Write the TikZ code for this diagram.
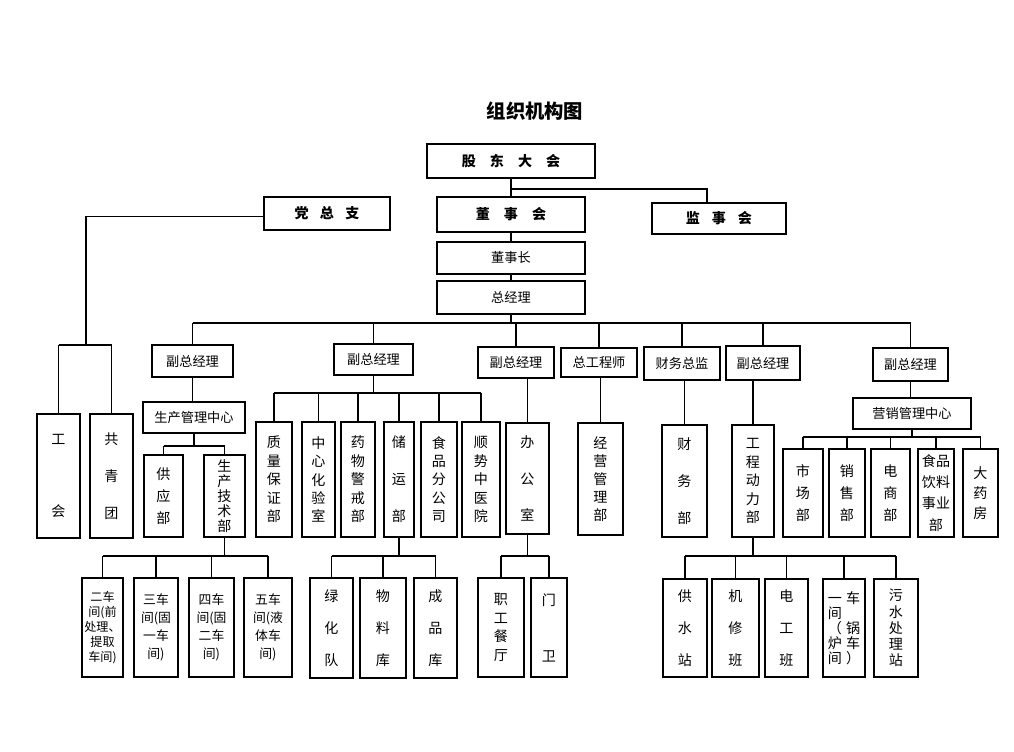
\documentclass[tikz,border=0pt]{standalone}
\usepackage{fontspec}
\setmainfont{Noto Sans CJK SC}
\newcommand{\bxn}[7]{\node[#1, minimum width={(#5-#3)*0.02cm}, minimum height={(#6-#4)*0.02cm}] (#2) at ({(#3+#5)/2},{(#4+#6)/2}) {#7};}
\tikzset{
  bx/.style={draw, line width=1.3pt, inner sep=0pt, align=center},
  hb/.style={bx, font=\fontsize{7.5}{9}\selectfont},
  topbox/.style={bx, font=\fontsize{8}{10}\selectfont\bfseries},
  vb/.style={bx, font=\fontsize{8}{#1}\selectfont},
  wb/.style={bx, font=\fontsize{7.3}{#1}\selectfont},
  nb/.style={bx, font=\fontsize{6.9}{#1}\selectfont},
  conn/.style={line width=0.9pt},
}
\begin{document}
\begin{tikzpicture}[x=0.02cm,y=-0.02cm]
\fill[white] (0,0) rectangle (1014,751);
\useasboundingbox (0,0) rectangle (1014,751);

\node[font=\fontsize{11}{13}\selectfont\bfseries] (title) at (535,111) {组织机构图};

% top levels
\bxn{topbox}{gd}{427}{144}{595}{178}{股\hspace{1em}东\hspace{1em}大\hspace{1em}会}
\bxn{topbox}{dzz}{264}{197}{390}{230}{党\hspace{0.8em}总\hspace{0.8em}支}
\bxn{topbox}{dsh}{437}{197}{585}{232}{董\hspace{1em}事\hspace{1em}会}
\bxn{topbox}{jsh}{652}{203}{786}{234}{监\hspace{0.85em}事\hspace{0.85em}会}
\bxn{hb}{dsz}{437}{242}{585}{274}{董事长}
\bxn{hb}{zjl}{437}{281}{585}{314}{总经理}

% row 3
\bxn{hb}{fz1}{152}{345}{233}{377}{副总经理}
\bxn{hb}{fz2}{334}{344}{413}{375}{副总经理}
\bxn{hb}{fz3}{478}{347}{554}{378}{副总经理}
\bxn{hb}{zgs}{561}{348}{637}{377}{总工程师}
\bxn{hb}{cwzj}{644}{347}{720}{380}{财务总监}
\bxn{hb}{fz4}{726}{346}{800}{380}{副总经理}
\bxn{hb}{fz5}{873}{348}{948}{381}{副总经理}
\bxn{hb}{scgl}{143}{402}{245}{433}{生产管理中心}
\bxn{hb}{yxgl}{853}{398}{971}{429}{营销管理中心}

% left pair
\bxn{vb=41}{gh}{37}{414}{80}{538}{工\\会}
\bxn{vb=21}{gqt}{90}{414}{133}{538}{共\\青\\团}

% production
\bxn{vb=12.5}{gyb}{144}{455}{183}{537}{供\\应\\部}
\bxn{vb=8.5}{scjs}{204}{455}{245}{537}{生\\产\\技\\术\\部}
\bxn{nb=8.5}{c2}{82}{578}{123}{677}{二车\\间(前\\处理、\\提取\\车间)}
\bxn{wb=10.2}{c3}{134}{578}{178}{677}{三车\\间(固\\一车\\间)}
\bxn{wb=10.2}{c4}{189}{578}{234}{677}{四车\\间(固\\二车\\间)}
\bxn{wb=10.2}{c5}{244}{578}{292}{677}{五车\\间(液\\体车\\间)}

% fz2 group
\bxn{vb=10.5}{zlbz}{256}{422}{292}{537}{质\\量\\保\\证\\部}
\bxn{vb=10.5}{zxhy}{302}{422}{335}{537}{中\\心\\化\\验\\室}
\bxn{vb=10.5}{ywjj}{341}{422}{375}{537}{药\\物\\警\\戒\\部}
\bxn{vb=21}{cyb}{384}{422}{414}{537}{储\\运\\部}
\bxn{vb=10.5}{spfgs}{421}{422}{457}{537}{食\\品\\分\\公\\司}
\bxn{vb=10.5}{sszyy}{462}{422}{500}{537}{顺\\势\\中\\医\\院}
\bxn{vb=18.3}{lhd}{310}{578}{353}{678}{绿\\化\\队}
\bxn{vb=18.3}{wlk}{360}{578}{406}{678}{物\\料\\库}
\bxn{vb=18.3}{cpk}{414}{578}{457}{678}{成\\品\\库}

% fz3 group
\bxn{vb=21}{bgs}{506}{423}{549}{534}{办\\公\\室}
\bxn{vb=10.5}{zgct}{478}{578}{524}{677}{职\\工\\餐\\厅}
\bxn{vb=32}{mw}{531}{578}{567}{677}{门\\卫}

% zgs, cwzj
\bxn{vb=10.3}{jyglb}{578}{423}{623}{535}{经\\营\\管\\理\\部}
\bxn{vb=21}{cwb}{662}{425}{707}{537}{财\\务\\部}

% fz4 group
\bxn{vb=10.5}{gcdl}{732}{425}{774}{537}{工\\程\\动\\力\\部}
\bxn{vb=18.3}{gss}{663}{579}{707}{677}{供\\水\\站}
\bxn{vb=18.3}{jxb}{712}{579}{759}{677}{机\\修\\班}
\bxn{vb=18.3}{dgb}{765}{579}{808}{677}{电\\工\\班}
\bxn{vb=8.6}{cj1}{823}{579}{865}{677}{一\hspace{0.3em}车\\间\hspace{0.3em}\phantom{车}\\（\hspace{0.3em}锅\\炉\hspace{0.3em}车\\间\hspace{0.3em}）}
\bxn{vb=9.2}{wscl}{874}{579}{918}{677}{污\\水\\处\\理\\站}

% fz5 group
\bxn{vb=12.5}{scb}{783}{449}{823}{537}{市\\场\\部}
\bxn{vb=12.5}{xsb}{829}{449}{865}{537}{销\\售\\部}
\bxn{vb=12.5}{dsb}{871}{449}{910}{537}{电\\商\\部}
\bxn{vb=12}{spyl}{918}{449}{954}{537}{食品\\饮料\\事业\\部}
\bxn{vb=11.5}{dyf}{963}{449}{998}{537}{大\\药\\房}

% ---- connectors ----
\coordinate (b1) at (0,189);
\draw[conn] (gd.south) -- (dsh.north);
\draw[conn] (gd.south |- b1) -| ([xshift=-0.24cm]jsh.north);
\draw[conn] (dsh.south) -- (dsz.north);
\draw[conn] (dsz.south) -- (zjl.north);

\coordinate (b2) at (0,323);
\draw[conn] (zjl.south) -- (zjl.south |- b2);
\draw[conn] (fz1.north |- b2) -- (fz5.north |- b2);
\foreach \n in {fz1,fz2,fz3,zgs,cwzj,fz4,fz5} \draw[conn] (\n.north) -- (\n.north |- b2);

% party branch
\coordinate (pc) at (86,345);
\draw[conn] ([yshift=-0.06cm]dzz.west) -| (pc);
\draw[conn] (gh.north |- pc) -- (gqt.north |- pc);
\foreach \n in {gh,gqt} \draw[conn] (\n.north) -- (\n.north |- pc);

% fz1 branch
\draw[conn] (fz1.south) -- (fz1.south |- scgl.north);
\coordinate (b4) at (0,446);
\draw[conn] (scgl.south) -- (scgl.south |- b4);
\draw[conn] (gyb.north |- b4) -- (scjs.north |- b4);
\foreach \n in {gyb,scjs} \draw[conn] (\n.north) -- (\n.north |- b4);
\coordinate (b5) at (0,556);
\draw[conn] (scjs.south) -- (scjs.south |- b5);
\draw[conn] (c2.north |- b5) -- (c5.north |- b5);
\foreach \n in {c2,c3,c4,c5} \draw[conn] (\n.north) -- (\n.north |- b5);

% fz2 branch
\coordinate (b6) at (0,393);
\draw[conn] (fz2.south) -- (fz2.south |- b6);
\draw[conn] (zlbz.north |- b6) -- (sszyy.north |- b6);
\foreach \n in {zlbz,zxhy,ywjj,cyb,spfgs,sszyy} \draw[conn] (\n.north) -- (\n.north |- b6);
\draw[conn] (cyb.south) -- (cyb.south |- b5);
\draw[conn] (lhd.north |- b5) -- (cpk.north |- b5);
\foreach \n in {lhd,wlk,cpk} \draw[conn] (\n.north) -- (\n.north |- b5);

% fz3 branch
\draw[conn] (bgs.north) -- (bgs.north |- fz3.south);
\draw[conn] (bgs.south) -- (bgs.south |- b5);
\draw[conn] (zgct.north |- b5) -- (mw.north |- b5);
\foreach \n in {zgct,mw} \draw[conn] (\n.north) -- (\n.north |- b5);

% zgs, cwzj
\draw[conn] (jyglb.north) -- (jyglb.north |- zgs.south);
\draw[conn] (cwb.north) -- (cwb.north |- cwzj.south);

% fz4 branch
\draw[conn] (gcdl.north) -- (gcdl.north |- fz4.south);
\draw[conn] (gcdl.south) -- (gcdl.south |- b5);
\draw[conn] (gss.north |- b5) -- (wscl.north |- b5);
\foreach \n in {gss,jxb,dgb,cj1,wscl} \draw[conn] (\n.north) -- (\n.north |- b5);

% fz5 branch
\draw[conn] (fz5.south) -- (fz5.south |- yxgl.north);
\coordinate (b7) at (0,437);
\draw[conn] (yxgl.south) -- (yxgl.south |- b7);
\draw[conn] (scb.north |- b7) -- (dyf.north |- b7);
\foreach \n in {scb,xsb,dsb,spyl,dyf} \draw[conn] (\n.north) -- (\n.north |- b7);
\end{tikzpicture}
\end{document}
